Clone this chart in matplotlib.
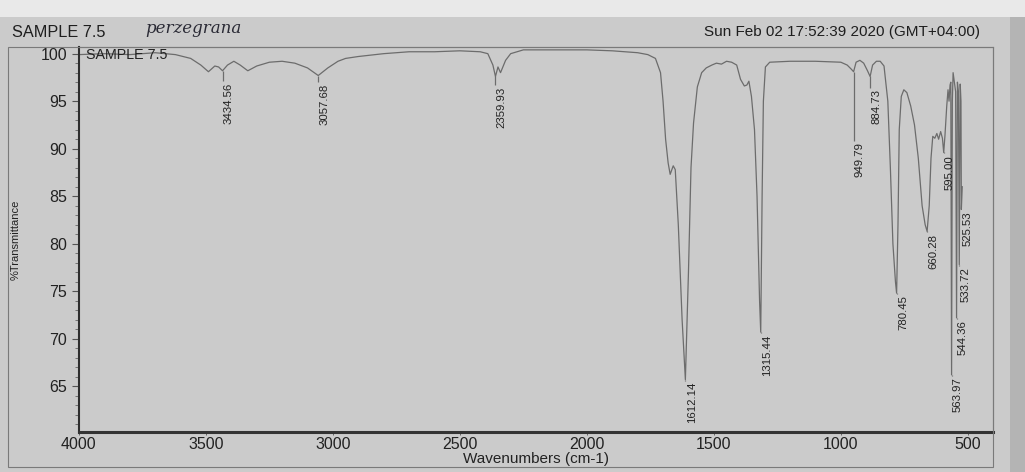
import matplotlib.pyplot as plt
from matplotlib.patches import Rectangle
from matplotlib.ticker import MultipleLocator

# spectrum (wavenumber, %T)
wavenumbers = [4000, 3900, 3800, 3700, 3620, 3560, 3520, 3490, 3465, 3450,
               3434.56, 3415, 3390, 3365, 3335, 3300, 3250, 3200, 3150, 3100,
               3057.68, 3020, 2980, 2950, 2900, 2800, 2700, 2600, 2500, 2420,
               2390, 2370, 2359.93, 2350, 2340, 2320, 2300, 2250, 2100, 2000,
               1900, 1800, 1760, 1730, 1710, 1700, 1690, 1680, 1672, 1660,
               1652, 1640, 1625, 1612.14, 1600, 1590, 1580, 1565, 1548, 1530,
               1508, 1490, 1470, 1450, 1430, 1410, 1395, 1380, 1370, 1362,
               1352, 1340, 1330, 1320, 1315.44, 1310, 1305, 1297, 1280, 1200,
               1100, 1000, 975, 960, 949.79, 940, 925, 910, 895, 884.73,
               875, 860, 845, 830, 815, 805, 795, 785, 780.45, 775,
               770, 762, 752, 740, 725, 710, 695, 680, 668, 660.28,
               652, 645, 638, 630, 622, 615, 607, 600, 595, 590,
               583, 578, 574, 570, 567, 563.97, 561, 558, 552, 548,
               544.36, 541, 537, 533.72, 530, 527, 525.53, 522]
transmittance = [99.9, 100.0, 99.9, 100.1, 99.9, 99.5, 98.8, 98.1, 98.7, 98.6,
                 98.2, 98.8, 99.2, 98.8, 98.2, 98.7, 99.1, 99.2, 99.0, 98.5,
                 97.7, 98.5, 99.2, 99.5, 99.7, 100.0, 100.2, 100.2, 100.3, 100.2,
                 100.0, 98.8, 97.6, 98.6, 98.0, 99.3, 100.0, 100.4, 100.4, 100.4,
                 100.3, 100.1, 99.9, 99.5, 98.0, 95.0, 91.0, 88.5, 87.3, 88.2,
                 87.8, 82.0, 72.0, 65.7, 77.0, 88.0, 92.7, 96.5, 98.0, 98.5,
                 98.8, 99.0, 98.9, 99.2, 99.1, 98.8, 97.3, 96.6, 96.7, 97.1,
                 95.5, 92.0, 85.0, 74.0, 70.7, 85.0, 95.0, 98.6, 99.1, 99.2,
                 99.2, 99.1, 98.8, 98.4, 98.1, 99.1, 99.3, 99.0, 98.2, 97.6,
                 98.8, 99.2, 99.2, 98.7, 95.0, 88.0, 80.0, 76.0, 74.8, 82.0,
                 92.0, 95.5, 96.2, 95.9, 94.5, 92.5, 89.0, 84.0, 82.0, 81.3,
                 84.0, 89.0, 91.3, 91.1, 91.6, 91.0, 91.8, 91.1, 89.6, 91.4,
                 94.5, 96.2, 95.0, 96.7, 97.0, 66.2, 95.0, 98.0, 96.8, 96.0,
                 72.2, 97.0, 96.0, 77.8, 96.8, 95.0, 83.6, 86.0]

# labelled peaks and where their labels start
peak_wn = [3434.56, 3057.68, 2359.93, 1612.14, 1315.44, 949.79, 884.73,
           780.45, 660.28, 595.00, 563.97, 544.36, 533.72, 525.53]
peak_t = [98.2, 97.7, 97.6, 65.7, 70.7, 98.1, 97.6,
          74.8, 81.3, 89.6, 66.2, 72.2, 77.8, 83.6]
label_top = [97.1, 97.0, 96.7, 65.6, 70.6, 90.8, 96.4,
             74.7, 81.2, 89.5, 66.1, 72.1, 77.7, 83.5]

xticks = [4000, 3500, 3000, 2500, 2000, 1500, 1000, 500]
yticks = [65, 70, 75, 80, 85, 90, 95, 100]

paper = '#cbcbcb'
plt.rc('font', family=['Liberation Sans', 'DejaVu Sans'])

fig = plt.figure(figsize=(10.25, 4.72), dpi=100, facecolor=paper)
ax = fig.add_axes([0.077, 0.085, 0.892, 0.8154])
ax.set_facecolor(paper)

# lighter strip of paper at the top of the photo
fig.patches.append(Rectangle((0, 0.965), 1, 0.035, transform=fig.transFigure,
                             facecolor='#e9e9e9', edgecolor='none', zorder=0))
# darker shadow at the right edge of the photo
fig.patches.append(Rectangle((0.985, 0), 0.015, 0.965, transform=fig.transFigure,
                             facecolor='#b4b4b4', edgecolor='none', zorder=0))
# outer box of the printout
fig.patches.append(Rectangle((0.0078, 0.0106), 0.961, 0.8898, transform=fig.transFigure,
                             facecolor='none', edgecolor='#7a7a7a', lw=0.8, zorder=1))

ax.plot(wavenumbers, transmittance, color='#6c6c6c', lw=0.9)

ax.vlines(peak_wn, label_top, peak_t, color='#6c6c6c', lw=0.9)
for wn, top in zip(peak_wn, label_top):
    ax.annotate('%.2f' % wn, (wn, top), xytext=(1, -1), textcoords='offset points',
                rotation=90, ha='left', va='top', fontsize=8.2, color='#222222')

ax.set_xlim(4000, 400)
ax.set_ylim(60.2, 100.7)
ax.set_xticks(xticks)
ax.set_yticks(yticks)
ax.yaxis.set_minor_locator(MultipleLocator(1))
ax.tick_params(axis='both', labelsize=11.5, colors='#222222')
ax.tick_params(axis='y', which='major', length=5, width=0.8, color='#555555')
ax.tick_params(axis='y', which='minor', length=3, width=0.6, color='#666666')
ax.tick_params(axis='x', which='major', length=2, width=0.6, color='#555555', pad=2)

ax.spines['left'].set_color('#2e2e2e')
ax.spines['left'].set_linewidth(1.5)
ax.spines['bottom'].set_color('#333333')
ax.spines['bottom'].set_linewidth(2.2)
ax.spines['top'].set_color('#7a7a7a')
ax.spines['top'].set_linewidth(0.8)
ax.spines['right'].set_color('#7a7a7a')
ax.spines['right'].set_linewidth(0.8)

ax.set_xlabel('Wavenumbers (cm-1)', fontsize=11, color='#222222', labelpad=0)
ax.set_ylabel('%Transmittance', fontsize=8, color='#222222', labelpad=14)

ax.text(0.008, 0.998, 'SAMPLE 7.5', transform=ax.transAxes, ha='left', va='top',
        fontsize=10.3, color='#222222')
fig.text(0.012, 0.932, 'SAMPLE 7.5', ha='left', va='center', fontsize=11.7, color='#1e1e1e')
fig.text(0.142, 0.94, 'perzegrana', ha='left', va='center', fontsize=12,
         family='DejaVu Serif', style='italic', color='#2a2a35')
fig.text(0.956, 0.932, 'Sun Feb 02 17:52:39 2020 (GMT+04:00)', ha='right', va='center',
         fontsize=11, color='#1e1e1e')

plt.savefig('out.png', dpi=100, facecolor=paper)
